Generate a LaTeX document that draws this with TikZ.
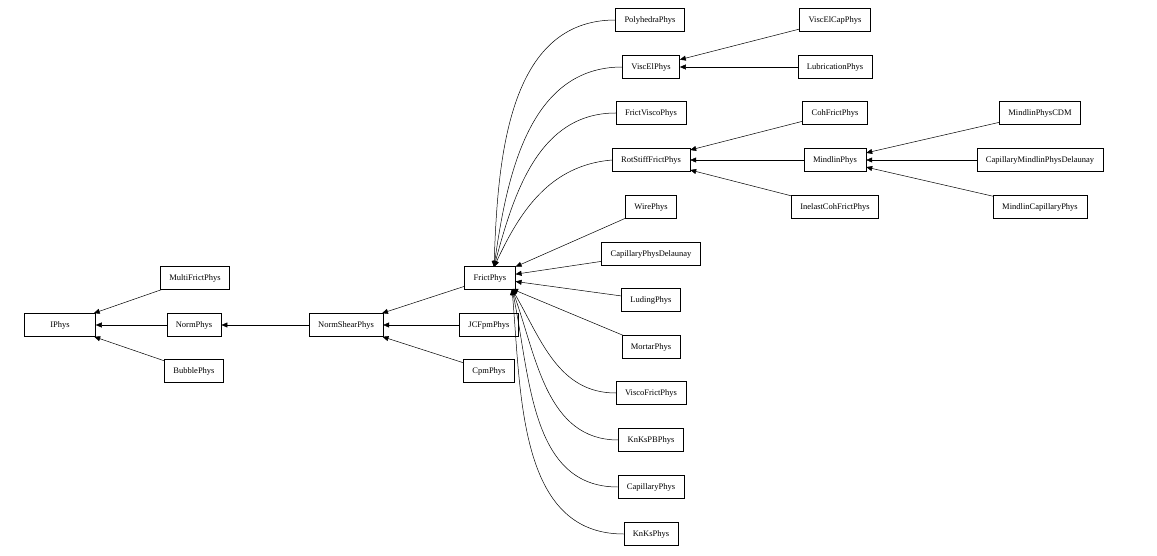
\documentclass[tikz,border=0pt]{standalone}
\usepackage{fontspec}
\setmainfont{Liberation Serif}
\usetikzlibrary{arrows.meta}
\begin{document}
\begin{tikzpicture}[x=1pt,y=-1pt,
  cls/.style={draw,fill=white,line width=0.5pt,minimum height=23pt,inner xsep=9pt,inner ysep=0pt,font=\fontsize{8.5}{10}\selectfont},
  ed/.style={draw,line width=0.5pt,-{Triangle[length=6pt,width=5pt]}}]
\useasboundingbox (0,0) rectangle (1157,556);
\node[cls,minimum width=71pt] (IPhys) at (60,325) {IPhys};
\node[cls] (Multi) at (195,278) {MultiFrictPhys};
\node[cls] (Norm) at (194,325) {NormPhys};
\node[cls] (Bubble) at (194,371) {BubblePhys};
\node[cls] (NS) at (346,325) {NormShearPhys};
\node[cls] (JCF) at (489,325) {JCFpmPhys};
\node[cls] (Cpm) at (489,371) {CpmPhys};
\node[cls] (Frict) at (490,278) {FrictPhys};
\node[cls] (Poly) at (650,20) {PolyhedraPhys};
\node[cls] (VE) at (651,67) {ViscElPhys};
\node[cls] (FV) at (651,113) {FrictViscoPhys};
\node[cls] (RS) at (651,160) {RotStiffFrictPhys};
\node[cls] (Wire) at (651,207) {WirePhys};
\node[cls] (CPD) at (651,254) {CapillaryPhysDelaunay};
\node[cls] (Lud) at (651,300) {LudingPhys};
\node[cls] (Mor) at (651,347) {MortarPhys};
\node[cls] (VF) at (651,393) {ViscoFrictPhys};
\node[cls] (KPB) at (651,440) {KnKsPBPhys};
\node[cls] (Cap) at (651,487) {CapillaryPhys};
\node[cls] (KK) at (651,534) {KnKsPhys};
\node[cls] (VEC) at (835,20) {ViscElCapPhys};
\node[cls] (Lub) at (835,67) {LubricationPhys};
\node[cls] (Coh) at (835,113) {CohFrictPhys};
\node[cls] (Min) at (835,160) {MindlinPhys};
\node[cls] (Inel) at (835,207) {InelastCohFrictPhys};
\node[cls] (MCDM) at (1040,113) {MindlinPhysCDM};
\node[cls] (CMPD) at (1040,160) {CapillaryMindlinPhysDelaunay};
\node[cls] (MCap) at (1040,207) {MindlinCapillaryPhys};
\coordinate (ft) at (494,267);
\coordinate (fb) at (512,289);
\path[ed] (Multi) -- (IPhys);
\path[ed] (Norm) -- (IPhys);
\path[ed] (Bubble) -- (IPhys);
\path[ed] (NS) -- (Norm);
\path[ed] (JCF) -- (NS);
\path[ed] (Cpm) -- (NS);
\path[ed] (Frict) -- (NS);
\path[ed] (Poly.west) to[out=180,in=88] (ft);
\path[ed] (VE.west) to[out=180,in=82] (ft);
\path[ed] (FV.west) to[out=180,in=75] (ft);
\path[ed] (RS.west) to[out=185,in=65] (ft);
\path[ed] (Wire) -- (Frict);
\path[ed] (CPD) -- (Frict);
\path[ed] (Lud) -- (Frict);
\path[ed] (Mor) -- (fb);
\path[ed] (VF.west) to[out=180,in=-60] (fb);
\path[ed] (KPB.west) to[out=180,in=-70] (fb);
\path[ed] (Cap.west) to[out=180,in=-78] (fb);
\path[ed] (KK.west) to[out=180,in=-85] (fb);
\path[ed] (VEC) -- (VE);
\path[ed] (Lub) -- (VE);
\path[ed] (Coh) -- (RS);
\path[ed] (Min) -- (RS);
\path[ed] (Inel) -- (RS);
\path[ed] (MCDM) -- (Min);
\path[ed] (CMPD) -- (Min);
\path[ed] (MCap) -- (Min);
\end{tikzpicture}
\end{document}
